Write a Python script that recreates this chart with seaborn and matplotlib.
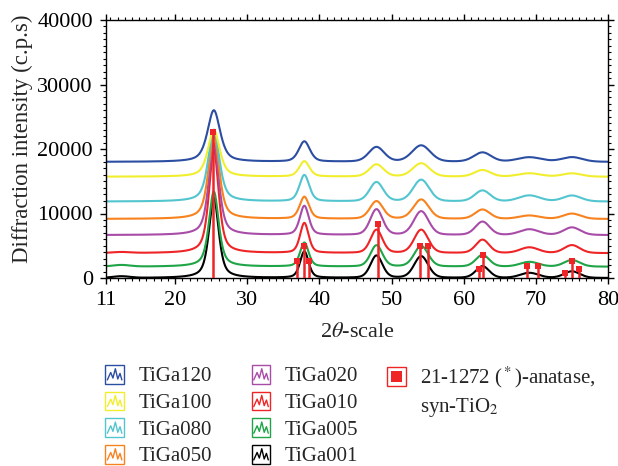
import numpy as np
import pandas as pd
import matplotlib
matplotlib.use("Agg")
import matplotlib.pyplot as plt
import seaborn as sns
from matplotlib.legend_handler import HandlerBase
from matplotlib.patches import Rectangle
from matplotlib.lines import Line2D
from matplotlib.ticker import FixedLocator, MultipleLocator

# ---------------- data ----------------
series_names = ["TiGa120", "TiGa100", "TiGa080", "TiGa050",
                "TiGa020", "TiGa010", "TiGa005", "TiGa001"]
series_colors = ["#2b4ea2", "#f1ee2e", "#52c5cf", "#f7821e",
                 "#a84ca8", "#ee2426", "#1fa447", "#000000"]
# vertical offset (baseline, c.p.s) of each pattern
baselines = [18000, 15700, 11850, 9150, 6650, 3850, 1750, 0]
# reflection positions (2theta), base FWHM (deg) and Lorentz fraction
peak_pos = [25.35, 37.9, 47.9, 54.1, 62.6, 69.1, 75.0]
peak_fwhm = [1.6, 1.4, 1.95, 2.3, 2.2, 3.0, 2.6]
peak_eta = [0.6, 0.4, 0.25, 0.2, 0.2, 0.1, 0.2]
# peak heights above baseline for every sample
h_TiGa120 = [8000, 3150, 2280, 2530, 1450, 700, 730]
h_TiGa100 = [7250, 2380, 1900, 2070, 1030, 520, 520]
h_TiGa080 = [11150, 4080, 2990, 3360, 1700, 930, 930]
h_TiGa050 = [13000, 3410, 2740, 3000, 1450, 520, 830]
h_TiGa020 = [14200, 4500, 3980, 3670, 2070, 880, 1190]
h_TiGa010 = [16000, 4650, 3610, 3610, 2070, 880, 1240]
h_TiGa005 = [11650, 3720, 3300, 3200, 1810, 730, 1030]
h_TiGa001 = [12400, 4080, 3460, 3360, 1810, 780, 1030]
peak_heights = [h_TiGa120, h_TiGa100, h_TiGa080, h_TiGa050,
                h_TiGa020, h_TiGa010, h_TiGa005, h_TiGa001]
# peak broadening of each sample relative to base FWHM
width_factor = [1.3, 1.2, 1.15, 1.1, 1.05, 1.0, 1.0, 1.0]
# small amorphous hump at low angle
hump_pos = 12.5
hump_heights = [0, 0, 0, 0, 0, 150, 250, 250]

# reference card 21-1272 anatase, syn-TiO2 (stick pattern)
anatase_pos = [25.28, 36.95, 37.80, 38.58, 48.05, 53.89, 55.06,
               62.12, 62.69, 68.76, 70.31, 74.03, 75.03, 76.02]
anatase_int = [22700, 2700, 5000, 2700, 8300, 4900, 4900,
               1400, 3500, 1800, 1800, 800, 2600, 1400]

x_ticks = [10.4, 20, 30, 40, 50, 60, 70, 80]
x_ticklabels = ["11", "20", "30", "40", "50", "60", "70", "80"]
y_ticks = [0, 10000, 20000, 30000, 40000]

# ---------------- build profiles ----------------
x_min, x_max = 10.4, 80.0
tt = np.linspace(x_min, x_max, 3500)


def pvoigt(x, c, fwhm, eta):
    s = fwhm / 2.3548
    g = np.exp(-0.5 * ((x - c) / s) ** 2)
    lo = 1.0 / (1.0 + ((x - c) / (fwhm / 2)) ** 2)
    return eta * lo + (1 - eta) * g


rows = []
for name, base, hs, wf, hh in zip(series_names, baselines, peak_heights,
                                  width_factor, hump_heights):
    y = np.full_like(tt, float(base))
    for c, w, e, h in zip(peak_pos, peak_fwhm, peak_eta, hs):
        y += h * pvoigt(tt, c, w * wf, e)
    y += hh * np.exp(-0.5 * ((tt - hump_pos) / 1.2) ** 2)
    rows.append(pd.DataFrame({"two_theta": tt, "intensity": y, "sample": name}))
df = pd.concat(rows, ignore_index=True)
sticks = pd.DataFrame({"two_theta": anatase_pos, "intensity": anatase_int})

# ---------------- style ----------------
sns.set_theme(style="ticks")
plt.rcParams["font.family"] = ["Liberation Serif", "DejaVu Serif"]
plt.rcParams["mathtext.fontset"] = "stix"
FS = 16
LFS = 15

fig = plt.figure(figsize=(6.18, 4.66), dpi=100)
ax = fig.add_axes([106 / 618, 1 - 278 / 466, 502 / 618, 258 / 466])

sns.lineplot(data=df, x="two_theta", y="intensity", hue="sample",
             hue_order=series_names[::-1], palette=series_colors[::-1],
             linewidth=1.5, ax=ax, legend=False, sort=False,
             estimator=None)

ax.vlines(sticks["two_theta"], 0, sticks["intensity"], color="#ee2426",
          linewidth=1.8, zorder=5)
sns.scatterplot(data=sticks, x="two_theta", y="intensity", marker="s",
                color="#ee2426", s=22, linewidth=0, ax=ax, zorder=6)

ax.set_xlim(x_min, x_max)
ax.set_ylim(0, 40000)
ax.xaxis.set_major_locator(FixedLocator(x_ticks))
ax.set_xticklabels(x_ticklabels)
ax.xaxis.set_minor_locator(MultipleLocator(1))
ax.set_yticks(y_ticks)
ax.set_yticklabels([str(v) for v in y_ticks])
ax.yaxis.set_minor_locator(MultipleLocator(1000))

for sp in ax.spines.values():
    sp.set_visible(True)
    sp.set_color("black")
    sp.set_linewidth(1.0)
ax.tick_params(which="both", direction="out", top=True, right=True,
               labeltop=False, labelright=False, colors="black",
               labelsize=FS)
ax.tick_params(which="major", length=4.5, width=1.0, pad=5)
ax.tick_params(which="minor", length=2.5, width=0.8)

ax.set_xlabel("2$\\mathit{\\theta}$-scale", fontsize=FS, labelpad=9)
ax.set_ylabel("Diffraction intensity (c.p.s)", fontsize=16.5)
ax.yaxis.set_label_coords(-0.145, 0.54)


# ---------------- legend ----------------
class ZigzagHandler(HandlerBase):
    def create_artists(self, legend, orig_handle, xdescent, ydescent,
                       width, height, fontsize, trans):
        c = orig_handle.get_color()
        s = min(width, height)
        x0 = -xdescent + (width - s) / 2
        y0 = -ydescent + (height - s) / 2
        rect = Rectangle((x0, y0), s, s, fill=False, edgecolor=c, lw=1.0,
                         transform=trans)
        zx = x0 + s * np.array([0.12, 0.3, 0.42, 0.55, 0.68, 0.8, 0.9])
        zy = y0 + s * np.array([0.2, 0.6, 0.3, 0.8, 0.25, 0.55, 0.2])
        ln = Line2D(zx, zy, color=c, lw=1.0, transform=trans)
        return [rect, ln]


class CardHandler(HandlerBase):
    def create_artists(self, legend, orig_handle, xdescent, ydescent,
                       width, height, fontsize, trans):
        c = orig_handle.get_color()
        s = min(width, height)
        x0 = -xdescent + (width - s) / 2
        y0 = -ydescent + (height - s) / 2
        outer = Rectangle((x0, y0), s, s, fill=False, edgecolor=c, lw=1.0,
                          transform=trans)
        m = 0.22 * s
        inner = Rectangle((x0 + m, y0 + m), s - 2 * m, s - 2 * m,
                          facecolor=c, edgecolor="none", transform=trans)
        return [outer, inner]


handles = [Line2D([], [], color=c) for c in series_colors]
zz = ZigzagHandler()
leg_kw = dict(frameon=False, fontsize=LFS, handlelength=1.0, handleheight=1.0,
              handletextpad=0.65, labelspacing=0.25, borderpad=0,
              borderaxespad=0, loc="upper left")
leg1 = fig.legend(handles, series_names, ncol=2, columnspacing=1.85,
                  bbox_to_anchor=(104 / 618, 1 - 365 / 466),
                  handler_map={h: zz for h in handles}, **leg_kw)
card = Line2D([], [], color="#ee2426")
blank = Line2D([], [], linestyle="none")
leg2 = fig.legend([card, blank],
                  ["21-1272 ($^*$)-anatase,", "syn-TiO$_2$"],
                  bbox_to_anchor=(386 / 618, 1 - 365 / 466),
                  handler_map={card: CardHandler()}, **leg_kw)

fig.savefig("out.png", dpi=100)
